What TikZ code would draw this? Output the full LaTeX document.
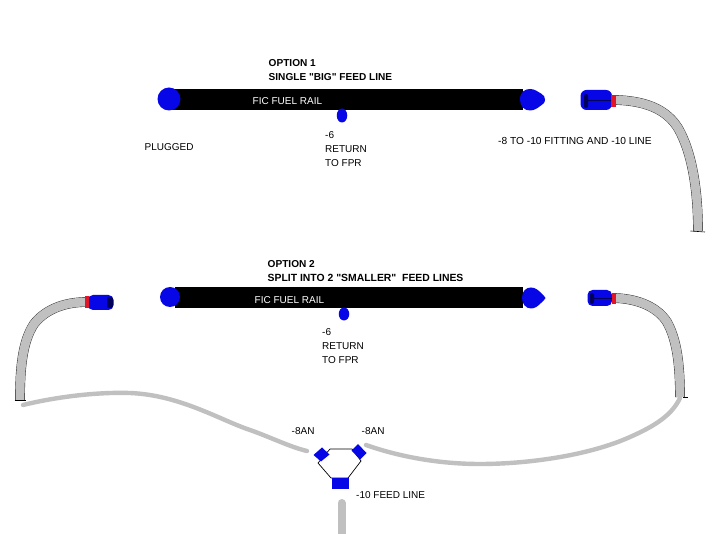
\documentclass[tikz,border=0pt]{standalone}
\usepackage{fontspec}
\setmainfont[Ligatures=TeXOff]{Liberation Sans}
\definecolor{fitblue}{RGB}{6,6,230}
\definecolor{hosegray}{RGB}{192,192,192}
\definecolor{fitred}{RGB}{226,20,40}
\definecolor{fitdark}{RGB}{0,0,90}
\tikzset{
  lab/.style={anchor=base west,inner sep=0pt,font=\fontsize{10}{12}\selectfont},
  widelab/.style={anchor=base west,inner sep=0pt,font=\fontsize{10.2}{12}\selectfont},
  boldlab/.style={anchor=base west,inner sep=0pt,font=\fontsize{10.1}{12}\selectfont\bfseries},
  whitelab/.style={lab,text=white},
  rail/.style={fill=black,draw=none,minimum height=21pt,inner sep=0pt},
  plugcap/.style={circle,fill=fitblue,draw=none,inner sep=0pt},
  retcap/.style={ellipse,fill=fitblue,draw=none,inner sep=0pt,minimum width=10.5pt,minimum height=14pt},
  hoseedge/.style={line width=9.7pt,black!85},
  hosefill/.style={line width=8.9pt,hosegray},
  feed/.style={line width=4.4pt,hosegray,line cap=round},
  tick/.style={black,line width=0.6pt},
}
\usetikzlibrary{shapes.geometric}
\begin{document}
\begin{tikzpicture}[x=1pt,y=-1pt]
\useasboundingbox (0,0) rectangle (726,534);
\fill[white] (0,0) rectangle (726,534);
% ---- option 1
\node[rail,minimum width=353pt,anchor=west] (railA) at (170,99.5) {};
\node[plugcap,minimum size=23pt] (plugA) at (169,99) {};
\node[retcap] (retA) at (342,115.5) {};
\fill[fitblue] (520,99.5) .. controls (520,92) and (525,89) .. (530,89) .. controls (535,89) and (538,92) .. (541,93.5) .. controls (544,95) and (545,97) .. (545,99.5) .. controls (545,103) and (543,104) .. (541,105.5) .. controls (538,107.5) and (535,110.5) .. (530,110.5) .. controls (524,110.5) and (520,106) .. (520,99.5) -- cycle;
% hose 1
\path (616,100) coordinate (h1a) (698,231) coordinate (h1b);
\draw[hoseedge] (h1a) .. controls (650,101) and (668,112) .. (678,128) .. controls (692,152) and (698,190) .. (h1b);
\draw[hosefill] (h1a) .. controls (650,101) and (668,112) .. (678,128) .. controls (692,152) and (698,190) .. (h1b);
\draw[tick] (690.5,231) -- (705,232);
\fill[fitblue,rounded corners=6pt] (580.5,90) rectangle (612,110);
\fill[fitdark,rounded corners=2pt] (584,94) rectangle (588,108);
\draw[fitdark,line width=0.7pt] (588,100) -- (611,100);
\fill[fitred] (611,95) rectangle (616,107);
% ---- option 2
\node[rail,minimum width=348pt,anchor=west] (railB) at (175,298) {};
\node[plugcap,minimum size=20pt] (plugB) at (170,297) {};
\node[retcap,minimum height=13pt] (retB) at (344,314) {};
\fill[fitblue] (522,298) .. controls (522,291) and (526,287.5) .. (531,287.5) .. controls (536,287.5) and (539,291) .. (541,293) .. controls (543,295) and (545,296.5) .. (545.5,298) .. controls (545,299.5) and (543,301) .. (541,303) .. controls (538,306) and (535,308.5) .. (531,308.5) .. controls (526,308.5) and (522,304) .. (522,298) -- cycle;
% right hose
\path (615,298) coordinate (h2a) (680,397) coordinate (h2b);
\draw[hoseedge] (h2a) .. controls (640,299) and (658,308) .. (667,322) .. controls (677,340) and (680,365) .. (h2b);
\draw[hosefill] (h2a) .. controls (640,299) and (658,308) .. (667,322) .. controls (677,340) and (680,365) .. (h2b);
\draw[tick] (683,397) -- (688,397);
\fill[fitblue,rounded corners=5pt] (587.5,290) rectangle (612,306);
\fill[fitdark,rounded corners=2pt] (590,293) rectangle (594,304);
\draw[fitdark,line width=0.7pt] (594,298) -- (612,298);
\fill[fitred] (612,293) rectangle (616,304);
% left hose
\path (87,302) coordinate (h3a) (20,400) coordinate (h3b);
\draw[hoseedge] (h3a) .. controls (62,302) and (44,311) .. (34,324) .. controls (22,342) and (20,370) .. (h3b);
\draw[hosefill] (h3a) .. controls (62,302) and (44,311) .. (34,324) .. controls (22,342) and (20,370) .. (h3b);
\draw[tick] (14.5,400.5) -- (26,400.5);
\fill[fitblue,rounded corners=5pt] (88,295) rectangle (113.5,310);
\fill[fitdark,rounded corners=2pt] (107,297) rectangle (113,308);
\fill[fitred] (85,296) rectangle (89,308);
% ---- Y block
\draw[black,fill=white,line width=0.7pt] (330,449) coordinate (ya) -- (352,449) coordinate (yb) -- (361,461) coordinate (yc) -- (348,478) coordinate (yd) -- (331,478) coordinate (ye) -- (318,463) coordinate (yf) -- cycle;
\fill[fitblue] (313.5,455) -- (322,447.5) -- (329.5,454.5) -- (321,461.5) -- cycle;
\fill[fitblue] (351.5,450.5) -- (358,444) -- (366.5,453) -- (360,459.5) -- cycle;
\fill[fitblue] (332,478) rectangle (348.5,489);
\coordinate (fa) at (23,405);
\coordinate (fb) at (307,451);
\coordinate (fc) at (366,445);
\coordinate (fd) at (680,398);
\coordinate (fe) at (341.5,503);
\coordinate (ff) at (341.5,534);
\draw[feed] (fa) .. controls (60,396) and (100,392) .. (130,393) .. controls (180,395) and (220,420) .. (250,430) .. controls (270,437) and (290,447) .. (fb);
\draw[feed] (fc) .. controls (400,457) and (440,464) .. (480,464) .. controls (530,464) and (590,455) .. (630,437) .. controls (655,426) and (672,415) .. (fd);
\draw[hosegray,line width=8pt,line cap=round] (fe) -- (ff);
% ---- labels
\node[boldlab] (t1) at (268.5,66.5) {OPTION 1};
\node[boldlab] (t2) at (268.5,80.5) {SINGLE "BIG" FEED LINE};
\node[whitelab] (t3) at (252.5,105) {FIC FUEL RAIL};
\node[lab] (t4) at (144.5,150.5) {PLUGGED};
\node[lab] (t5) at (325,138.5) {-6};
\node[lab] (t6) at (325,152.5) {RETURN};
\node[lab] (t7) at (325,166.5) {TO FPR};
\node[widelab] (t8) at (498,144.5) {-8 TO -10 FITTING AND -10 LINE};
\node[boldlab] (t9) at (267.5,267.5) {OPTION 2};
\node[boldlab,font=\fontsize{10.4}{12}\selectfont\bfseries] (t10) at (267.5,281.5) {SPLIT INTO 2 "SMALLER"\ \ FEED LINES};
\node[whitelab] (t11) at (254.5,303.5) {FIC FUEL RAIL};
\node[lab] (t12) at (322,335.5) {-6};
\node[lab] (t13) at (322,349.5) {RETURN};
\node[lab] (t14) at (322,363.5) {TO FPR};
\node[lab] (t15) at (291.5,434.5) {-8AN};
\node[lab] (t16) at (361.5,434.5) {-8AN};
\node[lab] (t17) at (356,498.5) {-10 FEED LINE};
\end{tikzpicture}
\end{document}
